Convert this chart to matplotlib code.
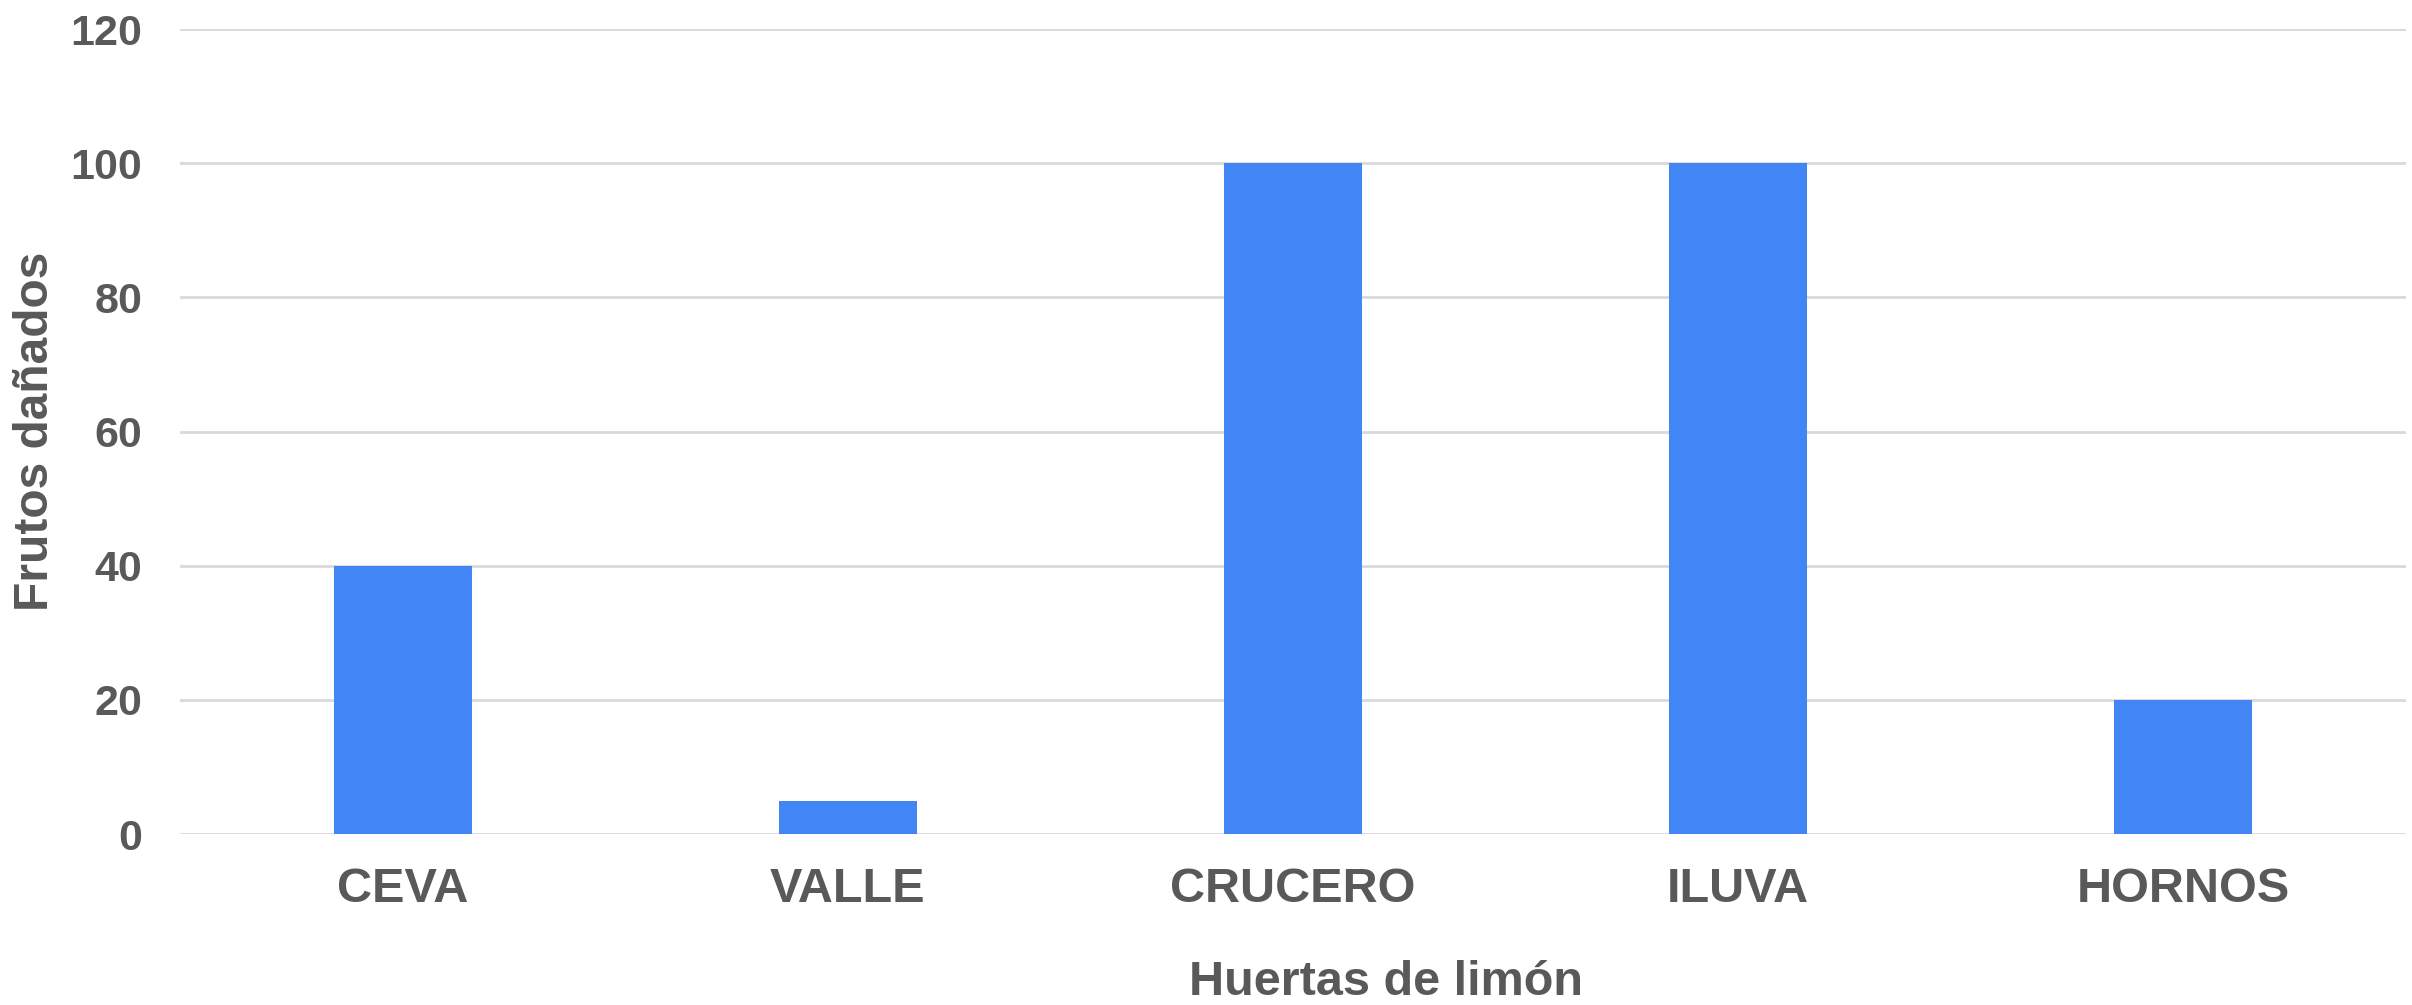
import matplotlib.pyplot as plt

huertas = ['CEVA', 'VALLE', 'CRUCERO', 'ILUVA', 'HORNOS']
frutos_danados = [40, 5, 100, 100, 20]
y_ticks = [0, 20, 40, 60, 80, 100, 120]

text_color = '#595959'
grid_color = '#d9d9d9'
bar_color = '#4285f4'

plt.rcParams['font.family'] = ['Liberation Sans', 'DejaVu Sans']
plt.rcParams['font.weight'] = 'bold'

fig = plt.figure(figsize=(24.12, 10.05), dpi=100)
ax = fig.add_axes([0.0746, 0.170, 0.9229, 0.801])

x = list(range(len(huertas)))
ax.bar(x, frutos_danados, width=0.31, color=bar_color, zorder=3)

ax.set_xlim(-0.5, len(huertas) - 0.5)
ax.set_ylim(0, 120)
ax.set_yticks(y_ticks)
ax.set_xticks(x)
ax.set_xticklabels(huertas)

ax.grid(axis='y', color=grid_color, linewidth=2, zorder=0)
for s in ax.spines.values():
    s.set_visible(False)
ax.tick_params(axis='both', length=0, colors=text_color, labelsize=31)
ax.tick_params(axis='y', pad=27)
ax.tick_params(axis='x', pad=24, labelsize=35)
for lbl in ax.get_xticklabels() + ax.get_yticklabels():
    lbl.set_fontweight('bold')

ax.set_xlabel('Huertas de limón', fontsize=35, fontweight='bold', color=text_color)
ax.set_ylabel('Frutos dañados', fontsize=34.5, fontweight='bold', color=text_color)
ax.xaxis.set_label_coords(0.542, -0.156)
ax.yaxis.set_label_coords(-0.0548, 0.5)

fig.savefig('out.png', dpi=100)
